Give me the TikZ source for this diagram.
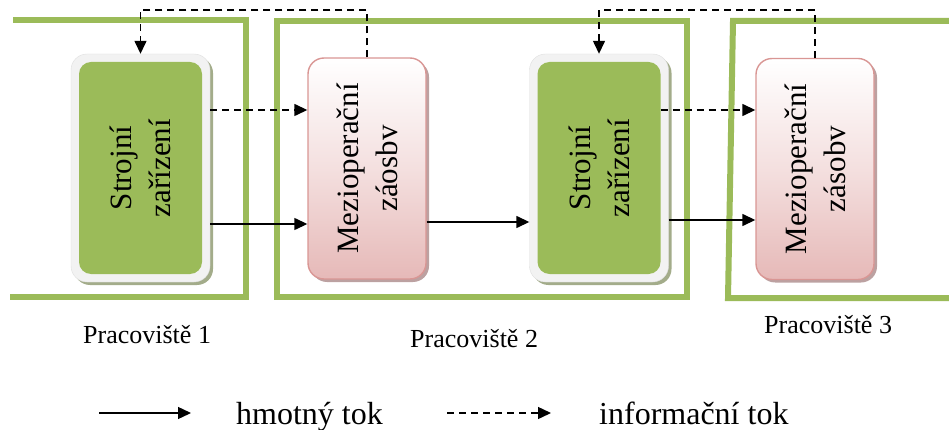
\documentclass[tikz,border=0pt]{standalone}
\usepackage{fontspec}
\setmainfont{Liberation Serif}
\usetikzlibrary{arrows.meta,shadows}

\definecolor{frameGreen}{HTML}{9BBB59}
\definecolor{boxGreen}{HTML}{9BBB59}
\definecolor{rimGray}{HTML}{F2F2F2}
\definecolor{pinkEdge}{HTML}{D99694}
\definecolor{pinkFill}{HTML}{E6B9B8}
\definecolor{greenShadow}{HTML}{A3AC8A}
\definecolor{pinkShadow}{HTML}{BCA1A1}

\begin{document}
\begin{tikzpicture}[x=1pt,y=-1pt,
  frame/.style={draw=frameGreen, line width=6pt, line join=miter},
  machine/.style={rounded corners=16pt, fill=rimGray, draw=rimGray!92!black,
    line width=0.4pt, minimum width=139pt, minimum height=228pt, inner sep=0pt,
    drop shadow={shadow xshift=3pt, shadow yshift=-3pt, fill=greenShadow, opacity=1}},
  machinecore/.style={rounded corners=12pt, fill=boxGreen,
    minimum width=123pt, minimum height=212pt, inner sep=0pt},
  buffer/.style={rounded corners=16pt, draw=pinkEdge, line width=1.4pt,
    top color=white, bottom color=pinkFill, middle color=pinkFill!45!white,
    minimum width=118pt, minimum height=221pt, inner sep=0pt,
    drop shadow={shadow xshift=3pt, shadow yshift=-3pt, fill=pinkShadow, opacity=1}},
  boxtext/.style={rotate=90, align=center, inner sep=0pt,
    font=\fontsize{31}{39}\selectfont},
  placelabel/.style={anchor=base west, inner sep=0pt,
    font=\fontsize{26}{31}\selectfont},
  legendlabel/.style={anchor=base west, inner sep=0pt,
    font=\fontsize{32}{38}\selectfont},
  material/.style={draw=black, line width=1.4pt,
    -{Triangle[length=13pt,width=12pt]}},
  info/.style={draw=black, line width=1.4pt, dash pattern=on 7pt off 5pt,
    -{Triangle[length=13pt,width=12pt]}}
]
\useasboundingbox (0,0) rectangle (949,430);

% workplace frames
\draw[frame] (13,20) -- (246,20) -- (246,297) -- (10,297);
\draw[frame] (277,21) rectangle (687,297);
\draw[frame] (949,21) -- (733,21) -- (728,298) -- (949,298);

% machines
\node[machine] (s1) at (140.5,168) {};
\node[machinecore] (c1) at (s1.center) {};
\node[boxtext] (t1) at (s1.center) {Strojní\\zařízení};

\node[machine] (s2) at (599,168) {};
\node[machinecore] (c2) at (s2.center) {};
\node[boxtext] (t2) at (s2.center) {Strojní\\zařízení};

% buffers between operations
\node[buffer] (p1) at (367,168.5) {};
\node[boxtext] (t3) at (p1.center) {Mezioperační\\záosbv};

\node[buffer] (p2) at (815,169) {};
\node[boxtext] (t4) at (p2.center) {Mezioperační\\zásobv};

% rows used by the connectors
\coordinate (infoRow) at (0,110);
\coordinate (matRowA) at (0,224);
\coordinate (matRowB) at (0,222);
\coordinate (matRowC) at (0,220);
\coordinate (topRow) at (0,10);

% material flow
\draw[material] (s1.east |- matRowA) -- (p1.west |- matRowA);
\draw[material] (p1.east |- matRowB) -- (s2.west |- matRowB);
\draw[material] (s2.east |- matRowC) -- (p2.west |- matRowC);

% information flow
\draw[info] (s1.east |- infoRow) -- (p1.west |- infoRow);
\draw[info] (c2.east |- infoRow) -- (p2.west |- infoRow);
\draw[info] (p1.north) -- (p1.north |- topRow) -| (s1.north);
\draw[info] (p2.north) -- (p2.north |- topRow) -| (s2.north);

% workplace labels
\node[placelabel] (w1) at (83,343) {Pracoviště 1};
\node[placelabel] (w2) at (410,347) {Pracoviště 2};
\node[placelabel] (w3) at (764,333) {Pracoviště 3};

% legend
\coordinate (lgA) at (99,413);
\coordinate (lgB) at (191,413);
\coordinate (lgC) at (447,413);
\coordinate (lgD) at (551,413);
\draw[material] (lgA) -- (lgB);
\node[legendlabel] (lg1) at (236,424) {hmotný tok};
\draw[info] (lgC) -- (lgD);
\node[legendlabel] (lg2) at (599,424) {informační tok};
\end{tikzpicture}
\end{document}
